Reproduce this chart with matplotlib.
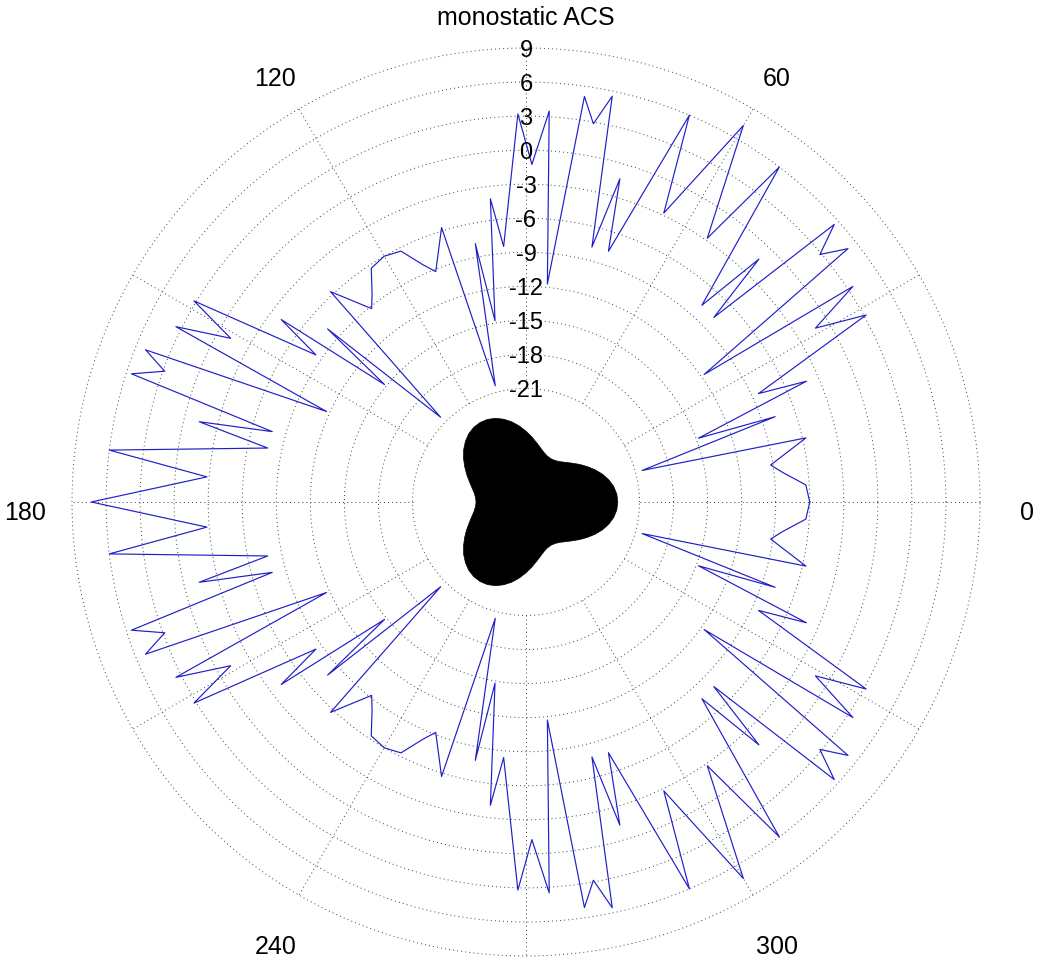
import matplotlib.pyplot as plt
import numpy as np

plt.rcParams['font.family'] = ['Liberation Sans', 'DejaVu Sans']

# monostatic ACS [dB] vs. incidence angle [deg]
ang_deg = [
    0, 3.5, 6.5, 8.6, 12.9, 15.2, 18.9, 20.3, 23.3, 25.0, 28.8,
    31.0, 33.4, 35.6, 38.2, 40.1, 42.0, 44.5, 46.2, 48.2, 52.9, 55.5,
    60, 64.5, 67.1, 71.8, 73.8, 75.5, 78.0, 79.9, 81.8, 84.4, 86.6,
    89.0, 91.2, 95.0, 96.7, 99.7, 101.1, 104.8, 107.1, 111.4, 113.5, 116.5,
    120, 123.5, 126.5, 128.6, 132.9, 135.2, 138.9, 140.3, 143.3, 145.0, 148.8,
    151.0, 153.4, 155.6, 158.2, 160.1, 162.0, 164.5, 166.2, 168.2, 172.9, 175.5,
    180, 184.5, 187.1, 191.8, 193.8, 195.5, 198.0, 199.9, 201.8, 204.4, 206.6,
    209.0, 211.2, 215.0, 216.7, 219.7, 221.1, 224.8, 227.1, 231.4, 233.5, 236.5,
    240, 243.5, 246.5, 248.6, 252.9, 255.2, 258.9, 260.3, 263.3, 265.0, 268.8,
    271.0, 273.4, 275.6, 278.2, 280.1, 282.0, 284.5, 286.2, 288.2, 292.9, 295.5,
    300, 304.5, 307.1, 311.8, 313.8, 315.5, 318.0, 319.9, 321.8, 324.4, 326.6,
    329.0, 331.2, 335.0, 336.7, 339.7, 341.1, 344.8, 347.1, 351.4, 353.5, 356.5,
    360]
acs_db = [
    -6.0, -6.3, -8.2, -9.2, -5.7, -20.4, -7.8, -14.8, -4.1, -8.4, 3.2,
    -1.25, 3.5, -11.7, 5.1, 2.85, 5.55, -7.8, -1.35, -7.75, 6.0, -2.8,
    7.3, -2.8, 6.0, -7.75, -1.35, -7.8, 5.55, 2.85, 5.1, -11.7, 3.5,
    -1.25, 3.2, -8.4, -4.1, -14.8, -7.8, -20.4, -5.7, -9.2, -8.2, -6.3,
    -6.0, -6.3, -8.2, -9.2, -5.7, -20.4, -7.8, -14.8, -4.1, -8.4, 3.2,
    -1.25, 3.5, -11.7, 5.1, 2.85, 5.55, -7.8, -1.35, -7.75, 6.0, -2.8,
    7.3, -2.8, 6.0, -7.75, -1.35, -7.8, 5.55, 2.85, 5.1, -11.7, 3.5,
    -1.25, 3.2, -8.4, -4.1, -14.8, -7.8, -20.4, -5.7, -9.2, -8.2, -6.3,
    -6.0, -6.3, -8.2, -9.2, -5.7, -20.4, -7.8, -14.8, -4.1, -8.4, 3.2,
    -1.25, 3.5, -11.7, 5.1, 2.85, 5.55, -7.8, -1.35, -7.75, 6.0, -2.8,
    7.3, -2.8, 6.0, -7.75, -1.35, -7.8, 5.55, 2.85, 5.1, -11.7, 3.5,
    -1.25, 3.2, -8.4, -4.1, -14.8, -7.8, -20.4, -5.7, -9.2, -8.2, -6.3,
    -6.0]

# scatterer outline (trefoil), radius given on the same dB axis
shape_deg = list(range(0, 360, 5))
shape_r = [-22.91, -22.97, -23.15, -23.45, -23.83, -24.28,
           -24.76, -25.23, -25.68, -26.06, -26.36, -26.54,
           -26.60, -26.54, -26.36, -26.06, -25.68, -25.23,
           -24.76, -24.28, -23.83, -23.45, -23.15, -22.97,
           -22.91, -22.97, -23.15, -23.45, -23.83, -24.28,
           -24.76, -25.23, -25.68, -26.06, -26.36, -26.54,
           -26.60, -26.54, -26.36, -26.06, -25.68, -25.23,
           -24.76, -24.28, -23.83, -23.45, -23.15, -22.97,
           -22.91, -22.97, -23.15, -23.45, -23.83, -24.28,
           -24.76, -25.23, -25.68, -26.06, -26.36, -26.54,
           -26.60, -26.54, -26.36, -26.06, -25.68, -25.23,
           -24.76, -24.28, -23.83, -23.45, -23.15, -22.97]

ring_db = [-21, -18, -15, -12, -9, -6, -3, 0, 3, 6, 9]
angle_lbls = [0, 60, 120, 180, 240, 300]
r_min = -31

fig = plt.figure(figsize=(10.45, 9.63), dpi=100)
ax = fig.add_axes([72/1045, 7/963, 908/1045, 908/963], projection='polar')
ax.set_ylim(r_min, 9)
ax.set_xticks([])
ax.set_yticks([])
ax.grid(False)
ax.spines['polar'].set_visible(False)

# dotted grid, MATLAB polar style
t = np.linspace(0, 2*np.pi, 721)
dots = dict(color='0.25', lw=0.7, ls=(0, (1, 3.2)), clip_on=False, zorder=1)
for v in ring_db:
    ax.plot(t, np.full_like(t, v), **dots)
for a in range(0, 360, 30):
    ax.plot([np.radians(a)]*2, [ring_db[0], ring_db[-1]], **dots)

ax.plot(np.radians(ang_deg), acs_db, color='#1f1fc8', lw=0.85, zorder=3)
ax.fill(np.radians(shape_deg), shape_r, color='black', lw=0.5, zorder=4)

for v in ring_db:
    ax.annotate(str(v), xy=(np.pi/2, v), xytext=(0, -2), textcoords='offset points',
                ha='center', va='center', fontsize=17, zorder=5)
for a in angle_lbls:
    ax.annotate(str(a), xy=(np.radians(a), 13.15), xytext=(0, -8),
                textcoords='offset points', ha='center', va='center',
                fontsize=18, annotation_clip=False)

fig.text(526/1045, 1 - 25/963, 'monostatic ACS', ha='center', va='baseline', fontsize=18)

fig.savefig('out.png', dpi=100)
